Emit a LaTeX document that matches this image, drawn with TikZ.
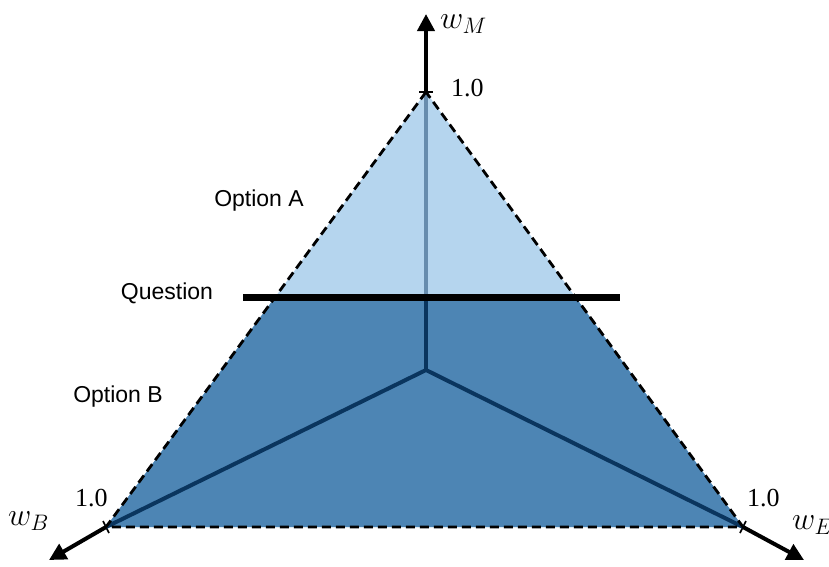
\RequirePackage{fix-cm}
\documentclass[tikz,border=0pt]{standalone}
\usepackage{fontspec}
\newfontfamily\labelfont{Liberation Sans}
\newfontfamily\numfont{Liberation Serif}
\usetikzlibrary{arrows.meta,calc}
\definecolor{lightfill}{HTML}{B5D5EE}
\definecolor{darkfill}{HTML}{4D85B4}
\definecolor{navy}{HTML}{0A355E}
\tikzset{
  optlabel/.style={font=\labelfont\fontsize{23}{27}\selectfont, inner sep=0pt},
  numlabel/.style={font=\numfont\fontsize{26}{30}\selectfont, inner sep=0pt},
  axlabel/.style={font=\fontsize{32}{38}\selectfont, inner sep=0pt},
  axisarrow/.style={line width=4pt, -{Triangle[length=17pt,width=17pt]}},
  edge/.style={black, line width=2.8pt, dash pattern=on 9pt off 5pt},
  spoke/.style={navy, line width=4pt},
}
\begin{document}
\begin{tikzpicture}[x=1pt,y=-1pt]
\useasboundingbox (0,0) rectangle (829,566);
\coordinate (T) at (426,92);
\coordinate (L) at (106,527);
\coordinate (R) at (743,527);
\coordinate (C) at (426,370);
\coordinate (QL) at (243,297);
\coordinate (QR) at (620,297);
\coordinate (TM) at (426,14);
\coordinate (LB) at (49,560);
\coordinate (RE) at (804,560);
% fills
\fill[lightfill] (T) -- (L) -- (R) -- cycle;
\fill[darkfill] ($(T)!0.4736!(L)$) -- (L) -- (R) -- ($(T)!0.4736!(R)$) -- cycle;
% axes
\draw[axisarrow] (T) -- (TM);
\draw[axisarrow] (L) -- (LB);
\draw[axisarrow] (R) -- (RE);
% ticks
\draw[line width=1.6pt] (419,92) -- (433,92);
\draw[line width=1.6pt] ($(L)+(-3,-6)$) -- ($(L)+(3,6)$);
\draw[line width=1.6pt] ($(R)+(3,-6)$) -- ($(R)+(-3,6)$);
% spokes
\draw[navy, opacity=0.45, line width=4pt] (T) -- (426,297);
\draw[spoke] (426,297) -- (C);
\draw[spoke] (L) -- (C) -- (R);
% dashed edges
\draw[edge] (T) -- (L) -- (R) -- cycle;
% question line
\draw[line width=7pt] (QL) -- (QR);
% labels
\node[axlabel, anchor=west] (wm) at (440,24) {$w_M$};
\node[axlabel, anchor=west] (wb) at (8,521) {$w_B$};
\node[axlabel, anchor=west] (we) at (792,525) {$w_E$};
\node[numlabel, anchor=west] (n1) at (451,88) {1.0};
\node[numlabel, anchor=west] (n2) at (75,498) {1.0};
\node[numlabel, anchor=west] (n3) at (747,498) {1.0};
\node[optlabel] (oa) at (259,201) {Option A};
\node[optlabel] (q) at (167,293) {Question};
\node[optlabel] (ob) at (118,397) {Option B};
\end{tikzpicture}
\end{document}
